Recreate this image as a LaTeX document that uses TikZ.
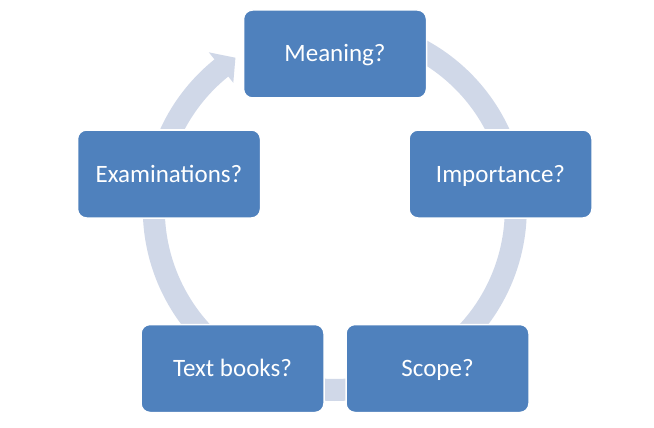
\documentclass[tikz,border=0pt]{standalone}
\usepackage{fontspec}
\setmainfont{Carlito}
\usetikzlibrary{calc}
\definecolor{boxblue}{RGB}{79,129,189}
\definecolor{bandgray}{RGB}{208,216,232}
\begin{document}
\begin{tikzpicture}[x=1pt,y=1pt,
  cyclebox/.style={draw=white, line width=1.5pt, fill=boxblue, rounded corners=9pt,
    minimum width=183pt, minimum height=88pt, inner sep=0pt,
    text=white, font=\fontsize{25}{30}\selectfont, text height=16pt, text depth=0pt},
  band/.style={draw=bandgray, line width=22pt}]
\useasboundingbox[fill=white] (0,0) rectangle (654,-428);
\coordinate (c) at (334.8,-209);
% bands (behind the boxes)
\draw[band] (c) ++(80:181) arc[start angle=80, end angle=18, radius=181];
\draw[band] (c) ++(5:181) arc[start angle=5, end angle=-52, radius=181];
\draw[band] (c) ++(-75:181) arc[start angle=-75, end angle=-105, radius=181];
\draw[band] (c) ++(-128:181) arc[start angle=-128, end angle=-190, radius=181];
\draw[band] (c) ++(165:181) arc[start angle=165, end angle=128.5, radius=181];
\fill[bandgray] ($(c)+(128.8:162)$) -- ($(c)+(123.3:181)$) -- ($(c)+(128.8:201)$) -- cycle;
% boxes
\node[cyclebox] (m) at (335,-54) {Meaning?};
\node[cyclebox] (i) at (500.5,-174) {Importance?};
\node[cyclebox] (s) at (437.5,-368.5) {Scope?};
\node[cyclebox] (t) at (232.5,-368.5) {Text books?};
\node[cyclebox] (e) at (169,-174) {Examinations?};
\end{tikzpicture}
\end{document}
